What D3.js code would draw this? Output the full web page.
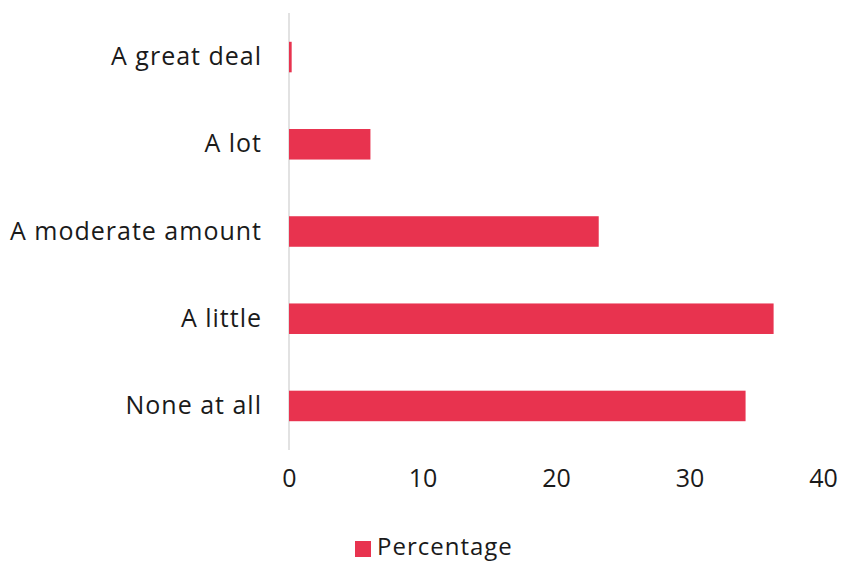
<!DOCTYPE html>
<html>
<head>
<meta charset="utf-8">
<script src="https://cdn.jsdelivr.net/npm/d3@7"></script>
<style>
  html, body { margin: 0; padding: 0; background: #fff; }
  svg text { font-family: "Open Sans", "Liberation Sans", sans-serif; fill: #1a1a1a; }
</style>
</head>
<body>
<svg id="chart" width="842" height="563"></svg>
<script>
// Amount of something, share of respondents (%)
const categories = ["A great deal", "A lot", "A moderate amount", "A little", "None at all"];
const percentages = [0.2, 6.1, 23.2, 36.3, 34.2];
const xTicks = [0, 10, 20, 30, 40];
const seriesName = "Percentage";

const barColor = "#e8334f";

const svg = d3.select("#chart");
const margin = { left: 289, right: 19, top: 13, bottom: 113 };
const width = 842, height = 563;

const x = d3.scaleLinear().domain([0, 40]).range([margin.left, width - margin.right]);
const y = d3.scaleBand().domain(categories)
  .range([margin.top, height - margin.bottom])
  .paddingInner(0.65).paddingOuter(0.33);

// category axis line
svg.append("line")
  .attr("x1", x(0)).attr("x2", x(0))
  .attr("y1", margin.top).attr("y2", height - margin.bottom)
  .attr("stroke", "#d9d9d9").attr("stroke-width", 1.5);

// bars
svg.selectAll("rect.bar").data(categories).enter().append("rect")
  .attr("class", "bar")
  .attr("x", x(0))
  .attr("y", d => y(d))
  .attr("width", (d, i) => x(percentages[i]) - x(0))
  .attr("height", y.bandwidth())
  .attr("fill", barColor);

// category labels
const yAxis = d3.axisLeft(y).tickSize(0).tickPadding(27);
const gy = svg.append("g").attr("transform", `translate(${x(0)},0)`).call(yAxis);
gy.select(".domain").remove();
gy.selectAll("text").style("font-size", "25px").style("letter-spacing", "1px").attr("fill", "#1a1a1a");

// value axis labels
const xAxis = d3.axisBottom(x).tickValues(xTicks).tickSize(0).tickPadding(0);
const gx = svg.append("g").attr("transform", `translate(0,${height - margin.bottom + 19})`).call(xAxis);
gx.select(".domain").remove();
gx.selectAll("text").style("font-size", "25px").attr("fill", "#1a1a1a");

// legend
const legend = svg.append("g").attr("transform", "translate(355,538)");
legend.append("rect").attr("x", 0).attr("y", 3).attr("width", 16).attr("height", 16).attr("fill", barColor);
legend.append("text").attr("x", 22).attr("y", 17).style("font-size", "24px").style("letter-spacing", "1px").text(seriesName);
</script>
</body>
</html>
